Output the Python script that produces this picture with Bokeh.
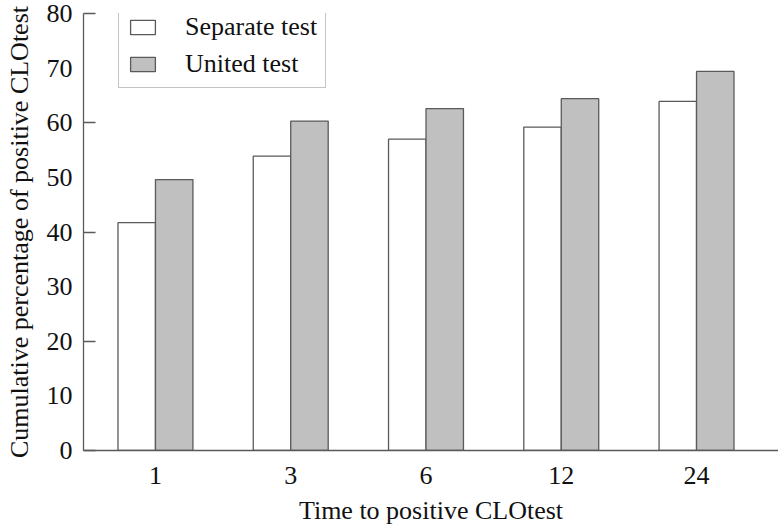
from bokeh.plotting import figure
from bokeh.models import Range1d, FixedTicker, ColumnDataSource, Legend, LegendItem
from bokeh.transform import dodge
from bokeh.embed import file_html
from bokeh.resources import INLINE

times = ["1", "3", "6", "12", "24"]
separate = [41.7, 53.9, 57.0, 59.2, 63.9]
united = [49.6, 60.3, 62.6, 64.4, 69.4]
y_labels = [0, 10, 20, 30, 40, 50, 60, 70, 80]
y_marks = [0, 20, 40, 60, 80]

idx = list(range(len(times)))
src = ColumnDataSource(dict(x=idx, separate=separate, united=united))

FONT = "Liberation Serif"
FS = "26px"
AX = "#5a5a5a"

p = figure(width=778, height=527, output_backend="svg", toolbar_location=None,
           x_range=Range1d(-0.532, 4.606), y_range=Range1d(0, 80),
           min_border_left=83, min_border_top=13, min_border_right=0, min_border_bottom=77)
p.outline_line_color = None
p.grid.grid_line_color = None
p.background_fill_color = "white"

bw = 0.277
r1 = p.vbar(x=dodge("x", -bw / 2, range=p.x_range), top="separate", width=bw, source=src,
            fill_color="white", line_color=AX, line_width=1.3)
r2 = p.vbar(x=dodge("x", bw / 2, range=p.x_range), top="united", width=bw, source=src,
            fill_color="#c0c0c0", line_color=AX, line_width=1.3)

# y axis
ya = p.yaxis[0]
ya.ticker = FixedTicker(ticks=y_labels, minor_ticks=y_marks)
ya.major_tick_in = 0
ya.major_tick_out = 0
ya.minor_tick_in = 12
ya.minor_tick_out = 0
ya.minor_tick_line_color = AX
ya.minor_tick_line_width = 1.3
ya.axis_line_color = AX
ya.axis_line_width = 1.3
ya.major_label_standoff = 11
ya.axis_label = "Cumulative percentage of positive CLOtest"
ya.axis_label_standoff = 10

# x axis
xa = p.xaxis[0]
xa.ticker = FixedTicker(ticks=idx)
xa.major_label_overrides = {i: t for i, t in zip(idx, times)}
xa.major_tick_in = 0
xa.major_tick_out = 0
xa.minor_tick_line_color = None
xa.axis_line_color = AX
xa.axis_line_width = 1.3
xa.major_label_standoff = 16
xa.axis_label = "Time to positive CLOtest"
xa.axis_label_standoff = 9

for ax in (xa, ya):
    ax.major_label_text_font = FONT
    ax.major_label_text_font_size = FS
    ax.major_label_text_color = "#111111"
    ax.axis_label_text_font = FONT
    ax.axis_label_text_font_size = FS
    ax.axis_label_text_font_style = "normal"
    ax.axis_label_text_color = "#111111"

legend = Legend(items=[LegendItem(label="Separate test", renderers=[r1]),
                       LegendItem(label="United test", renderers=[r2])],
                location=(35, 362))
legend.label_text_font = FONT
legend.label_text_font_size = FS
legend.label_text_color = "#111111"
legend.glyph_width = 31
legend.glyph_height = 18
legend.label_height = 24
legend.spacing = 7
legend.padding = 8
legend.label_standoff = 27
legend.margin = 0
legend.border_line_color = "#888888"
legend.border_line_width = 1.3
legend.background_fill_alpha = 1
p.add_layout(legend, "center")

open("out.html", "w").write(file_html(p, INLINE))
